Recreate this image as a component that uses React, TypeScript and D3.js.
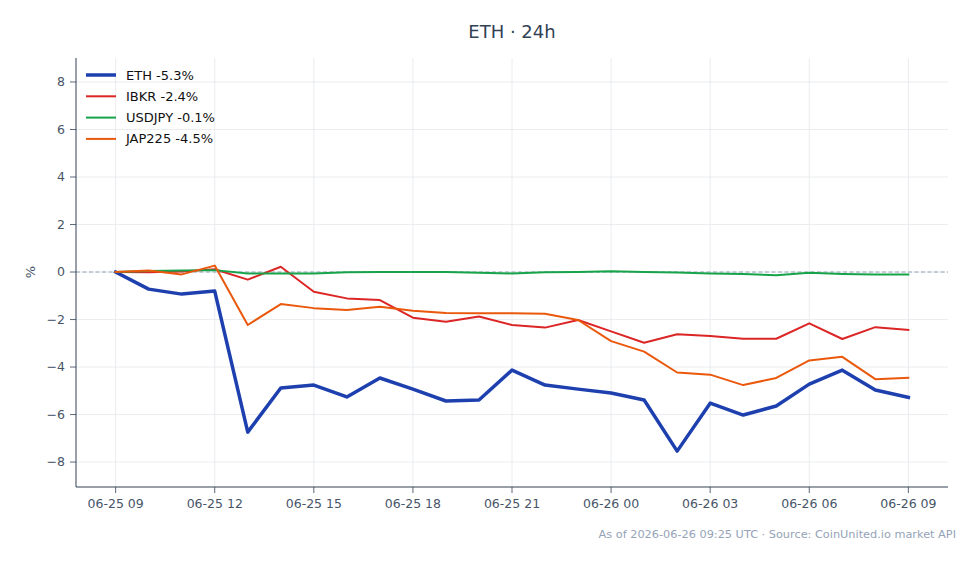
import * as d3 from 'd3';

const W = 980;
const H = 564;

// Hourly samples, 06-25 09:00 UTC through 06-26 09:00 UTC
const START = new Date(Date.UTC(2026, 5, 25, 9));
const END = new Date(Date.UTC(2026, 5, 26, 9));
const TIMES = d3.utcHour.range(START, d3.utcHour.offset(END, 1));

// % change vs first sample
const ETH = [
  0, -0.72, -0.93, -0.8, -6.74, -4.88, -4.76, -5.26, -4.46, -4.93, -5.43, -5.39, -4.13,
  -4.76, -4.93, -5.09, -5.39, -7.54, -5.52, -6.02, -5.64, -4.72, -4.13, -4.97, -5.28,
];
const IBKR = [
  0, -0.01, 0.02, 0.12, -0.32, 0.22, -0.83, -1.11, -1.18, -1.92, -2.09, -1.87, -2.23,
  -2.34, -2.02, -2.5, -2.98, -2.62, -2.69, -2.81, -2.81, -2.16, -2.82, -2.32, -2.44,
];
const USDJPY = [
  0, 0.04, 0.06, 0.08, -0.06, -0.06, -0.06, -0.01, 0, 0, 0, -0.03, -0.06,
  -0.01, 0, 0.03, 0, -0.02, -0.06, -0.08, -0.14, -0.03, -0.08, -0.1, -0.1,
];
const JAP225 = [
  0, 0.06, -0.1, 0.27, -2.23, -1.35, -1.52, -1.6, -1.46, -1.63, -1.73, -1.74, -1.74,
  -1.76, -2.02, -2.91, -3.35, -4.23, -4.32, -4.76, -4.46, -3.72, -3.57, -4.51, -4.45,
];

const SERIES = [
  { name: 'ETH', values: ETH, color: '#1e40af', width: 3.5 },
  { name: 'IBKR', values: IBKR, color: '#dc2626', width: 2 },
  { name: 'USDJPY', values: USDJPY, color: '#16a34a', width: 2 },
  { name: 'JAP225', values: JAP225, color: '#ea580c', width: 2 },
];

const Y_TICKS = [-8, -6, -4, -2, 0, 2, 4, 6, 8];
const TITLE = 'ETH · 24h';
const FOOTER = 'As of 2026-06-26 09:25 UTC · Source: CoinUnited.io market API';

const FONT = '"DejaVu Sans", sans-serif';
const margin = { top: 58, right: 32, bottom: 77, left: 76 };

export default function App() {
  const innerW = W - margin.left - margin.right;
  const innerH = H - margin.top - margin.bottom;

  // matplotlib-like 5% padding on the time axis
  const pad = (END.getTime() - START.getTime()) * 0.05;
  const x = d3
    .scaleTime()
    .domain([new Date(START.getTime() - pad), new Date(END.getTime() + pad)])
    .range([0, innerW]);
  const y = d3.scaleLinear().domain([-9.05, 9.01]).range([innerH, 0]);

  const xTicks = d3.utcHour.every(3)!.range(START, d3.utcHour.offset(END, 1));
  const fmt = d3.utcFormat('%m-%d %H');

  const line = d3
    .line<number>()
    .x((_, i) => x(TIMES[i]))
    .y((d) => y(d));

  const minus = (v: number) => (v < 0 ? `\u2212${Math.abs(v)}` : `${v}`);

  return (
    <svg
      width={W}
      height={H}
      style={{ position: 'fixed', left: 0, top: 0, background: '#fff', fontFamily: FONT }}
    >
      <text x={margin.left + innerW / 2} y={38} textAnchor="middle" fontSize={18} fill="#334155">
        {TITLE}
      </text>
      <g transform={`translate(${margin.left},${margin.top})`}>
        {/* grid */}
        {xTicks.map((t) => (
          <line key={`gx${+t}`} x1={x(t)} x2={x(t)} y1={0} y2={innerH} stroke="#e5e7eb" strokeWidth={0.8} />
        ))}
        {Y_TICKS.map((v) => (
          <line key={`gy${v}`} x1={0} x2={innerW} y1={y(v)} y2={y(v)} stroke="#e5e7eb" strokeWidth={0.8} />
        ))}
        {/* zero reference */}
        <line x1={0} x2={innerW} y1={y(0)} y2={y(0)} stroke="#94a3b8" strokeWidth={1} strokeDasharray="4,2.5" />

        {SERIES.map((s) => (
          <path
            key={s.name}
            d={line(s.values) ?? ''}
            fill="none"
            stroke={s.color}
            strokeWidth={s.width}
            strokeLinejoin="round"
            strokeLinecap="square"
          />
        ))}

        {/* spines */}
        <line x1={0} x2={0} y1={0} y2={innerH} stroke="#334155" strokeWidth={1} />
        <line x1={0} x2={innerW} y1={innerH} y2={innerH} stroke="#334155" strokeWidth={1} />

        {Y_TICKS.map((v) => (
          <g key={`ty${v}`} transform={`translate(0,${y(v)})`}>
            <line x1={-6} x2={0} stroke="#334155" strokeWidth={0.8} />
            <text x={-11} dy="0.35em" textAnchor="end" fontSize={12.5} fill="#475569">
              {minus(v)}
            </text>
          </g>
        ))}
        {xTicks.map((t) => (
          <g key={`tx${+t}`} transform={`translate(${x(t)},${innerH})`}>
            <line y1={0} y2={6} stroke="#334155" strokeWidth={0.8} />
            <text y={21} textAnchor="middle" fontSize={12.5} fill="#475569">
              {fmt(t)}
            </text>
          </g>
        ))}
        <text
          transform={`translate(${-41},${y(0)}) rotate(-90)`}
          textAnchor="middle"
          fontSize={13}
          fill="#475569"
        >
          %
        </text>

        {/* legend */}
        {SERIES.map((s, i) => (
          <g key={`lg${s.name}`} transform={`translate(10,${17 + i * 21.3})`}>
            <line x1={0} x2={30} stroke={s.color} strokeWidth={s.width} />
            <text x={40} dy="0.35em" fontSize={13} fill="#111">
              {`${s.name} ${s.values[s.values.length - 1].toFixed(1)}%`}
            </text>
          </g>
        ))}
      </g>
      <text x={956} y={538} textAnchor="end" fontSize={11.3} fill="#94a3b8">
        {FOOTER}
      </text>
    </svg>
  );
}
